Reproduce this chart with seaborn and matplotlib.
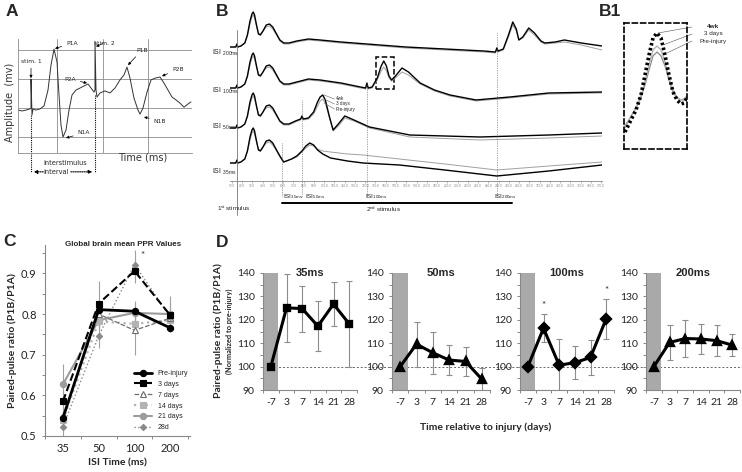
import numpy as np
import seaborn as sns
import matplotlib.pyplot as plt
from matplotlib.patches import Rectangle

W, H = 742, 472

# ---------------- A: single evoked trace (time ms, amplitude mV)
a_time = [0, 4, 8, 12, 13, 13, 14, 15, 18, 22, 26, 30, 33, 36, 39, 41, 43, 45, 48, 51,
          54, 58, 62, 66, 70, 73, 76, 77, 77, 78, 79, 82, 87, 92, 97, 102, 106, 109, 112, 116,
          120, 122, 125, 129, 133, 137, 142, 146, 150, 154, 158, 162, 166, 170, 173]
a_amp = [-0.07, -0.10, -0.07, -0.03, 0.0, 1.0, -0.24, -0.03, -0.07, -0.03,
         0.07, 0.62, 1.48, 2.03, 1.59, 0.45, -0.59, -1.0, -0.76, -0.07,
         0.45, 0.62, 0.69, 0.76, 0.83, 0.69, 0.55, 0.62, 2.3, 0.62,
         0.38, 0.52, 0.59, 0.52, 0.69, 0.97, 1.14, 1.41, 1.03, 0.34,
         -0.07, -0.21, 0.0, 0.55, 0.97, 1.03, 1.07, 0.86, 0.62, 0.38,
         0.28, 0.17, 0.03, 0.14, 0.21]

# ---------------- B: averaged traces, ms after 1st stimulus, amplitude above baseline
resp1_t = [-5.4, -1, 0, 0.5, 3, 6, 8, 10, 11.5, 12.5, 13.5, 15, 16.5, 18, 20, 22.5, 25, 27.5, 30, 33]
resp1_4wk = [0, 0, 3, 0, 1, 4, 12, 26, 33, 35, 32, 22, 13, 12, 16, 22, 23, 20, 14, 7]
resp1_pre = [0, 0, 3, 0, 1, 4, 11, 23, 30, 32, 29, 21, 14, 13, 16, 20, 21, 18, 13, 6]

tail200_t = [36, 40, 46, 55, 64, 80, 100, 130, 160, 190, 199, 200, 201, 205, 209, 212.3, 215, 217,
             220, 224.6, 229, 234, 237, 245, 252, 265, 281]
tail200_4wk = [4, 4, 6, 8, 7, 5, 3, 0, -2, -4, -5, -1, -4, -2, 12, 25, 18, 7, 10, 19, 14, 6, 4, 5, 7, 4, 1]
tail200_pre = [3, 3, 5, 7, 6, 4, 2, -1, -3, -5, -6, -2, -5, -3, 10, 22, 16, 7, 9, 17, 12, 5, 3, 4, 5, 2, -3]

tail100_t = [36, 40, 46, 55, 64, 80, 95, 99, 100, 101, 104, 108, 111, 113, 115, 117, 119, 122, 127,
             132, 141, 152, 164, 184, 210, 240, 281]
tail100_4wk = [4, 4, 6, 9, 8, 5, 1, 0, 5, 0, 1, 10, 22, 27, 22, 12, 8, 12, 20, 16, 5, -2, -7, -12, -9, -5, -4]
tail100_pre = [3, 3, 5, 8, 7, 4, 0, -1, 4, -1, 0, 8, 17, 21, 17, 10, 7, 10, 16, 13, 4, -3, -8, -13, -10, -6, -5]

tail50_t = [36, 40, 45, 49, 50, 51, 55, 59, 62, 64, 66, 68, 71, 74, 78, 83, 90, 102, 133, 187, 240, 281]
tail50_4wk = [4, 4, 7, 9, 12, 9, 10, 16, 26, 31, 33, 28, 12, -2, 4, 12, 8, 1, -7, -9, -7, -5]
tail50_pre = [3, 3, 6, 8, 11, 8, 9, 14, 22, 27, 29, 25, 11, -3, 2, 10, 7, 0, -9, -12, -10, -8]

tail35_t = [35, 36, 38, 42, 46, 50, 53, 56, 59, 62, 66, 72, 85, 97, 125, 160, 200, 240, 281]
tail35_4wk = [3, 1, 2, 4, 7, 12, 17, 20, 18, 13, 9, 5, 2, 0, -2, -7, -13, -8, -2]
tail35_pre = [2, 1, 2, 4, 6, 11, 15, 18, 17, 14, 12, 11, 9, 8, 4, -1, -7, -3, 1]

isi_names = ["200ms", "100ms", "50ms", "35ms"]
isi_ms = [200, 100, 50, 35]
trace_base = [153, 112, 72, 37]
isi_line_top = [167, 117, 100, 57]

# ---------------- B1: zoomed 2nd peak of the 100 ms trace
b1_x = [1, 6, 12, 17, 21, 25, 29, 33, 37, 41, 45, 49, 53, 57, 60, 63]
b1_4wk = [17, 27, 39, 54, 74, 94, 111, 116, 111, 94, 74, 57, 49, 45, 46, 51]
b1_3d = [21, 31, 41, 54, 67, 84, 99, 103, 99, 87, 71, 59, 52, 49, 49, 52]
b1_pre = [23, 31, 41, 52, 64, 79, 93, 97, 93, 83, 69, 57, 51, 49, 50, 53]

# ---------------- C: global mean PPR
isi_cat = ["35", "50", "100", "200"]
ppr_pre = [0.544, 0.811, 0.807, 0.766]
ppr_3d = [0.585, 0.826, 0.906, 0.797]
ppr_7d = [0.548, 0.800, 0.760, 0.790]
ppr_14d = [0.540, 0.782, 0.776, 0.785]
ppr_21d = [0.627, 0.785, 0.803, 0.800]
ppr_28d = [0.523, 0.747, 0.922, 0.792]
err_pre = [0.02, 0.02, 0.02, 0.01]
err_3d = [0.03, 0.055, 0.03, 0.03]
err_7d = [0.03, 0.03, 0.06, 0.02]
err_14d = [0.02, 0.02, 0.02, 0.02]
err_21d = [0.05, 0.02, 0.03, 0.045]
err_28d = [0.03, 0.03, 0.035, 0.02]

# ---------------- D: normalised PPR per ISI
days = ["-7", "3", "7", "14", "21", "28"]
ppr_35 = [100, 125.1, 124.8, 117.3, 126.7, 118.3]
ppr_50 = [100, 109.6, 105.9, 102.8, 102.2, 94.6]
ppr_100 = [100, 116.4, 100.6, 101.7, 103.9, 120.4]
ppr_200 = [100, 110.3, 112.0, 111.8, 111.1, 109.2]
sd_35 = [0, 14.5, 9.8, 10.7, 9.5, 18.3]
sd_50 = [0, 9.6, 9.0, 6.6, 6.2, 5.0]
sd_100 = [0, 6.0, 11.0, 7.2, 7.6, 8.7]
sd_200 = [0, 7.3, 8.0, 6.3, 6.6, 4.8]
star_100 = [1, 5]


def rect(l, t, r, b):
    return [l / W, 1 - b / H, (r - l) / W, (b - t) / H]


def fpos(x, y):
    return x / W, 1 - y / H


sns.set_style("ticks")
plt.rcParams["font.family"] = ["Lato", "DejaVu Sans"]
plt.rcParams["mathtext.default"] = "regular"

fig = plt.figure(figsize=(W / 100, H / 100), dpi=100)
ARIAL = ["Liberation Sans", "DejaVu Sans"]

for letter, x, y in [("A", 12, 11), ("B", 222, 11), ("B1", 610, 11), ("C", 9, 241), ("D", 222, 243)]:
    fig.text(*fpos(x, y), letter, fontsize=12.5, fontweight="bold", family=ARIAL, ha="center", va="center")

# ================= A
ax_a = fig.add_axes(rect(18, 39, 192, 153))
sns.lineplot(x=a_time, y=a_amp, ax=ax_a, color="#333333", lw=0.7, estimator=None, sort=False)
ax_a.set_xlim(0, 174)
ax_a.set_ylim(-1.55, 2.38)
ax_a.set_xticks([39, 85, 130])
ax_a.set_yticks([-1, 0, 1, 2])
ax_a.grid(True, color="#8c8c8c", lw=0.6)
ax_a.tick_params(length=0, labelbottom=False, labelleft=False)
sns.despine(ax=ax_a)
for s in ["left", "bottom"]:
    ax_a.spines[s].set_color("#8c8c8c")
    ax_a.spines[s].set_linewidth(0.6)

arrow = dict(arrowstyle="-|>", lw=0.5, color="black", mutation_scale=4, shrinkA=1, shrinkB=0)
for txt, xy, xytext in [("stim. 1", (13, 1.03), (13, 1.62)), ("P1A", (37, 2.05), (54, 2.24)),
                        ("stim. 2", (78, 2.12), (86, 2.24)), ("P2A", (69, 0.86), (52, 1.0)),
                        ("P1B", (110, 1.48), (124, 2.0)), ("P2B", (144, 1.1), (160, 1.34)),
                        ("N1A", (48, -1.03), (66, -0.86)), ("N1B", (126, -0.31), (142, -0.45))]:
    ax_a.annotate(txt, xy=xy, xytext=xytext, fontsize=4.3, family="DejaVu Sans",
                  ha="center", va="center", arrowprops=arrow)

dot = dict(color="black", lw=0.8, ls=(0, (1, 1)), clip_on=False)
ax_a.plot([13, 13], [-0.25, -2.2], **dot)
ax_a.plot([77, 77], [0.45, -2.2], **dot)
darrow = dict(arrowstyle="-|>", lw=0.8, ls=(0, (1, 1)), color="black", mutation_scale=5)
ax_a.annotate("", xy=(13, -2.2), xytext=(28, -2.2), arrowprops=darrow, annotation_clip=False)
ax_a.annotate("", xy=(77, -2.2), xytext=(50, -2.2), arrowprops=darrow, annotation_clip=False)
ax_a.text(38, -2.2, "interval", fontsize=4.8, family="DejaVu Sans", ha="center", va="center")
ax_a.text(47, -1.9, "interstimulus", fontsize=4.8, family="DejaVu Sans", ha="center", va="center")
fig.text(*fpos(10, 102), "Amplitude  (mv)", rotation=90, fontsize=7, family="DejaVu Sans",
         ha="center", va="center", color="#333333")
fig.text(*fpos(143, 158), "Time (ms)", fontsize=7, family="DejaVu Sans", ha="center", va="center",
         color="#333333")

# ================= B
ax_b = fig.add_axes(rect(230, 8, 602, 181))
tails = [(tail200_t, tail200_4wk, tail200_pre), (tail100_t, tail100_4wk, tail100_pre),
         (tail50_t, tail50_4wk, tail50_pre), (tail35_t, tail35_4wk, tail35_pre)]
for (tt, t4, tp), base in zip(tails, trace_base):
    t = resp1_t + tt
    y_pre = [base + v for v in resp1_pre + tp]
    y_4wk = [base + v for v in resp1_4wk + t4]
    sns.lineplot(x=t, y=y_pre, ax=ax_b, color="#a0a0a0", lw=0.7, estimator=None, sort=False)
    sns.lineplot(x=t, y=y_4wk, ax=ax_b, color="black", lw=1.0, estimator=None, sort=False)
ax_b.set_xlim(-5.4, 281)
ax_b.set_ylim(19, 192)
b_ticks = np.arange(-4, 281, 7.9)
ax_b.set_xticks(b_ticks)
ax_b.set_xticklabels([f"{10 * (i + 1)}.0" for i in range(len(b_ticks))], fontsize=2.2, color="#666666")
ax_b.tick_params(axis="x", length=1.5, width=0.4, pad=1, colors="#888888")
ax_b.set_yticks([])
sns.despine(ax=ax_b, left=True)
ax_b.spines["bottom"].set_color("#888888")
ax_b.spines["bottom"].set_linewidth(0.6)

ax_b.plot([0, 0], [170, -15], color="#777777", lw=0.6, clip_on=False)
for isi, top in zip(isi_ms, isi_line_top):
    ax_b.plot([isi, isi], [top, 3], color="#555555", lw=0.5, ls=(0, (1, 1.5)), clip_on=False)
ax_b.plot([35, 212], [-3, -3], color="black", lw=1.4, clip_on=False)
ax_b.add_patch(Rectangle((107, 111), 13.8, 32, fill=False, ls="--", lw=1.1, ec="black"))
for lab, y0, y1 in [("4wk", 105, 101), ("3 days", 101, 96), ("Pre-injury", 97, 91)]:
    ax_b.plot([67, 75], [y0, y1], color="#666666", lw=0.4)
    ax_b.text(76, y1, lab, fontsize=3.3, family=ARIAL, va="center")

for name, y in zip(isi_names, [53, 91, 127, 172]):
    fig.text(*fpos(212, y), "ISI $_{" + name + "}$", fontsize=5, family=ARIAL, va="center", color="#222222")
for name, x in zip(["35ms", "50ms", "100ms", "200ms"], [283, 305, 365, 494]):
    fig.text(*fpos(x, 197), "ISI$_{" + name + "}$", fontsize=4.5, family=ARIAL, va="center", color="#222222")
fig.text(*fpos(234, 209), "1$^{st}$ stimulus", fontsize=4.5, family=ARIAL, ha="center", va="center")
fig.text(*fpos(383, 209), "2$^{nd}$ stimulus", fontsize=4.5, family=ARIAL, ha="center", va="center")

# ================= B1
ax_b1 = fig.add_axes(rect(624, 23, 687, 149))
sns.lineplot(x=b1_x, y=b1_pre, ax=ax_b1, color="#8a8a8a", lw=0.9, estimator=None, sort=False)
sns.lineplot(x=b1_x, y=b1_3d, ax=ax_b1, color="#b5b5b5", lw=1.0, estimator=None, sort=False)
sns.lineplot(x=b1_x, y=b1_4wk, ax=ax_b1, color="black", lw=2.6, linestyle=(0, (0.7, 0.7)),
             estimator=None, sort=False)
ax_b1.set_xlim(0, 63)
ax_b1.set_ylim(0, 126)
ax_b1.set_xticks([])
ax_b1.set_yticks([])
for sp in ax_b1.spines.values():
    sp.set_linestyle((0, (3, 2)))
    sp.set_linewidth(1.2)
    sp.set_color("black")
for lab, y_lab, xe, ye in [("4wk", 27, 34, 116), ("3 days", 34, 39, 104), ("Pre-injury", 41, 43, 96)]:
    ax_b1.plot([68, xe], [149 - y_lab, ye], color="#555555", lw=0.4, clip_on=False)
    fig.text(*fpos(713, y_lab), lab, fontsize=4.6, family=ARIAL, ha="center", va="center",
             fontweight="bold" if lab == "4wk" else "normal")

# ================= C
ax_c = fig.add_axes(rect(45, 245, 190, 436))
c_series = [("Pre-injury", ppr_pre, err_pre), ("3 days", ppr_3d, err_3d), ("7 days", ppr_7d, err_7d),
            ("14 days", ppr_14d, err_14d), ("21 days", ppr_21d, err_21d), ("28d", ppr_28d, err_28d)]
c_styles = [dict(color="black", marker="o", linestyle="-", linewidth=2.0, markersize=4.5, zorder=9),
            dict(color="black", marker="s", linestyle="--", linewidth=1.5, markersize=5, zorder=8),
            dict(color="#6e6e6e", marker="^", linestyle="--", linewidth=0.9, markersize=5,
                 markerfacecolor="white", zorder=6),
            dict(color="#b3b3b3", marker="s", linestyle=":", linewidth=1.6, markersize=5, zorder=5),
            dict(color="#9c9c9c", marker="o", linestyle="-", linewidth=1.5, markersize=4.5, zorder=4),
            dict(color="#8a8a8a", marker="D", linestyle=":", linewidth=1.0, markersize=3.2, zorder=7)]
handles = []
for (lab, vals, err), st in zip(c_series, c_styles):
    ax_c.errorbar(range(len(isi_cat)), vals, yerr=err, fmt="none", ecolor="#a0a0a0", elinewidth=0.8, zorder=2)
    sns.pointplot(x=isi_cat, y=vals, errorbar=None, ax=ax_c, label=lab, markeredgewidth=0.8, **st)
    handles.append(ax_c.lines[-1])
ax_c.legend(handles=handles, loc="lower right", bbox_to_anchor=(1.02, 0.0), frameon=False,
            prop={"family": ARIAL, "size": 5}, handlelength=2.6, labelspacing=0.55, borderaxespad=0.3)
ax_c.set_xlim(-0.47, 3.55)
ax_c.set_ylim(0.5, 0.97)
ax_c.set_yticks([0.5, 0.6, 0.7, 0.8, 0.9])
ax_c.set_yticks(np.arange(0.55, 0.97, 0.1), minor=True)
ax_c.set_xticks([-0.5, 0.5, 1.5, 2.5, 3.5], minor=True)
ax_c.tick_params(axis="x", which="major", length=0, labelsize=8, pad=5, colors="#222222")
ax_c.tick_params(axis="x", which="minor", length=2.5, width=0.7, colors="#888888")
ax_c.tick_params(axis="y", which="both", length=2.5, width=0.7, labelsize=8, colors="#888888",
                 labelcolor="#222222")
ax_c.set_xlabel("ISI Time (ms)", fontsize=7.5, fontweight="bold", labelpad=3)
ax_c.set_ylabel("Paired-pulse ratio (P1B/P1A)", fontsize=7.5, fontweight="bold", labelpad=3)
ax_c.text(0.54, 1.0, "Global brain mean PPR Values", transform=ax_c.transAxes, fontsize=5.8,
          fontweight="bold", family=ARIAL, ha="center", va="center")
ax_c.text(2.22, 0.944, "*", fontsize=7, ha="center", va="center")
sns.despine(ax=ax_c)
for s in ["left", "bottom"]:
    ax_c.spines[s].set_color("#888888")
    ax_c.spines[s].set_linewidth(0.8)

# ================= D
d_vals = [ppr_35, ppr_50, ppr_100, ppr_200]
d_sd = [sd_35, sd_50, sd_100, sd_200]
d_titles = ["35ms", "50ms", "100ms", "200ms"]
d_markers = ["s", "^", "D", "^"]
d_msize = [5, 6, 5, 6]
d_lr = [(263, 357), (392, 490), (520, 614), (646, 740)]
for i, (vals, sd, title, mk, ms, (l, r)) in enumerate(zip(d_vals, d_sd, d_titles, d_markers, d_msize, d_lr)):
    ax = fig.add_axes(rect(l, 273, r, 390))
    ax.set_facecolor("none")
    if i == 0:
        ax.plot([-0.5, 40], [100, 100], color="#666666", lw=0.7, ls=(0, (2, 2)), clip_on=False, zorder=0.5)
    ax.axvspan(-0.5, 0.45, color="#a9a9a9", lw=0, zorder=1)
    ax.errorbar(range(len(days)), vals, yerr=sd, fmt="none", ecolor="#8c8c8c", elinewidth=0.8,
                capsize=2, capthick=0.8, zorder=2)
    sns.pointplot(x=days, y=vals, errorbar=None, ax=ax, color="black", marker=mk, linestyle="-",
                  linewidth=2.2, markersize=ms, zorder=5)
    if title == "100ms":
        for k in star_100:
            ax.text(k, vals[k] + sd[k] + 3.5, "*", fontsize=7, ha="center", va="center")
    ax.set_xlim(-0.5, 5.5)
    ax.set_ylim(90, 140)
    ax.set_yticks(range(90, 141, 10))
    ax.set_yticks(range(95, 140, 10), minor=True)
    ax.set_xticks(np.arange(-0.5, 5.6, 1), minor=True)
    ax.tick_params(axis="x", which="major", length=0, labelsize=7.5, pad=6, colors="#222222")
    ax.tick_params(axis="x", which="minor", length=2.5, width=0.7, colors="#888888")
    ax.tick_params(axis="y", which="both", length=2.5, width=0.7, labelsize=7.5, colors="#888888",
                   labelcolor="#222222")
    ax.set_xlabel("")
    ax.set_ylabel("")
    ax.text(0.5, 1.0, title, transform=ax.transAxes, fontsize=8, fontweight="bold", family=ARIAL,
            ha="center", va="center")
    sns.despine(ax=ax)
    for s in ["left", "bottom"]:
        ax.spines[s].set_color("#888888")
        ax.spines[s].set_linewidth(0.8)

fig.text(*fpos(218, 331), "Paired-pulse ratio (P1B/P1A)", rotation=90, fontsize=7.5, fontweight="bold",
         ha="center", va="center")
fig.text(*fpos(229, 331), "(Normalized to pre-injury)", rotation=90, fontsize=5.3, fontweight="bold",
         ha="center", va="center")
fig.text(*fpos(486, 427), "Time relative to injury (days)", fontsize=7.5, fontweight="bold",
         ha="center", va="center")

fig.savefig("out.png", dpi=100)
